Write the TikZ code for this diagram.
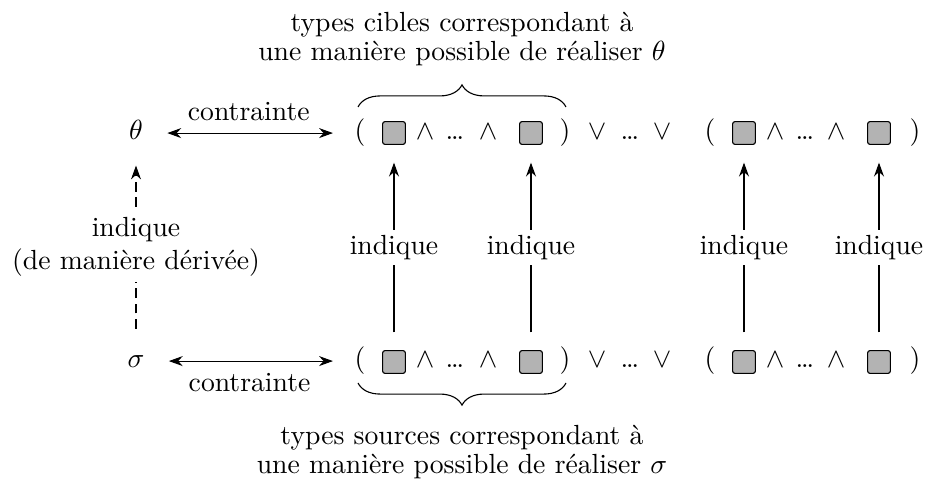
\documentclass[tikz,border=0pt]{standalone}
\usepackage{amsmath,amssymb}
\usepackage{xcolor}
\usepackage{tikz}
\usetikzlibrary{arrows.meta, decorations.pathreplacing}
\definecolor{slotgray}{HTML}{B3B3B3}

\begin{document}
\begin{tikzpicture}[x=0.0127cm, y=-0.0127cm, >={Stealth[length=5pt,width=3.6pt]},
  sym/.style={anchor=base, text height=7.5pt, text depth=2.5pt},
  slot/.style={draw, fill=slotgray, rounded corners=0.8pt, minimum size=8.2pt, inner sep=0pt},
  lbl/.style={fill=white, inner sep=2pt},
  vlink/.style={->, shorten <=6.4pt, shorten >=6.4pt},
  brc/.style={decorate, decoration={brace, amplitude=8pt}}]
\useasboundingbox (0,0) rectangle (929,480);

% type variables
\node[sym] (theta) at (136,140) {$\theta$};
\node[sym] (sigma) at (136,368) {$\sigma$};

% target types
\node[sym] (tl1)    at (360,140) {(};
\node[slot] (t1)    at (394,133) {};
\node[sym] (tand1)  at (425,140) {$\wedge$};
\node[sym] (tdots1) at (455,140) {\dots};
\node[sym] (tand2)  at (488,140) {$\wedge$};
\node[slot] (t2)    at (531,133) {};
\node[sym] (tr1)    at (565,140) {)};
\node[sym] (tor1)   at (597,140) {$\vee$};
\node[sym] (tdots2) at (630,140) {\dots};
\node[sym] (tor2)   at (662,140) {$\vee$};
\node[sym] (tl2)    at (710,140) {(};
\node[slot] (t3)    at (744,133) {};
\node[sym] (tand3)  at (775,140) {$\wedge$};
\node[sym] (tdots3) at (805,140) {\dots};
\node[sym] (tand4)  at (836,140) {$\wedge$};
\node[slot] (t4)    at (879,133) {};
\node[sym] (tr2)    at (915,140) {)};

% source types
\node[sym] (sl1)    at (360,368) {(};
\node[slot] (s1)    at (394,362) {};
\node[sym] (sand1)  at (425,368) {$\wedge$};
\node[sym] (sdots1) at (455,368) {\dots};
\node[sym] (sand2)  at (488,368) {$\wedge$};
\node[slot] (s2)    at (531,362) {};
\node[sym] (sr1)    at (565,368) {)};
\node[sym] (sor1)   at (597,368) {$\vee$};
\node[sym] (sdots2) at (630,368) {\dots};
\node[sym] (sor2)   at (662,368) {$\vee$};
\node[sym] (sl2)    at (710,368) {(};
\node[slot] (s3)    at (744,362) {};
\node[sym] (sand3)  at (775,368) {$\wedge$};
\node[sym] (sdots3) at (805,368) {\dots};
\node[sym] (sand4)  at (836,368) {$\wedge$};
\node[slot] (s4)    at (879,362) {};
\node[sym] (sr2)    at (915,368) {)};

% constraints
\draw[<->, shorten <=5.3pt, shorten >=4.3pt] (theta) -- node[above=1pt] (ctop) {contrainte} (tl1);
\draw[<->, shorten <=5.3pt, shorten >=4.3pt] (sigma) -- node[below=1pt] (cbot) {contrainte} (sl1);

% indications
\draw[->, dash pattern=on 3.5pt off 2pt, shorten <=3.2pt, shorten >=3.2pt] (sigma) --
  node[lbl, align=center] (derived) {indique\\(de manière dérivée)} (theta);
\draw[vlink] (s1) -- node[lbl] (ind1) {indique} (t1);
\draw[vlink] (s2) -- node[lbl] (ind2) {indique} (t2);
\draw[vlink] (s3) -- node[lbl] (ind3) {indique} (t3);
\draw[vlink] (s4) -- node[lbl] (ind4) {indique} (t4);

% braces
\draw[brc] (358,107) -- (566,107);
\node[align=center] (captop) at (462,39) {types cibles correspondant à\\[-1.5pt]une manière possible de réaliser $\theta$};
\draw[brc] (566,383) -- (358,383);
\node[align=center] (capbot) at (462,452) {types sources correspondant à\\[-1.5pt]une manière possible de réaliser $\sigma$};
\end{tikzpicture}
\end{document}
